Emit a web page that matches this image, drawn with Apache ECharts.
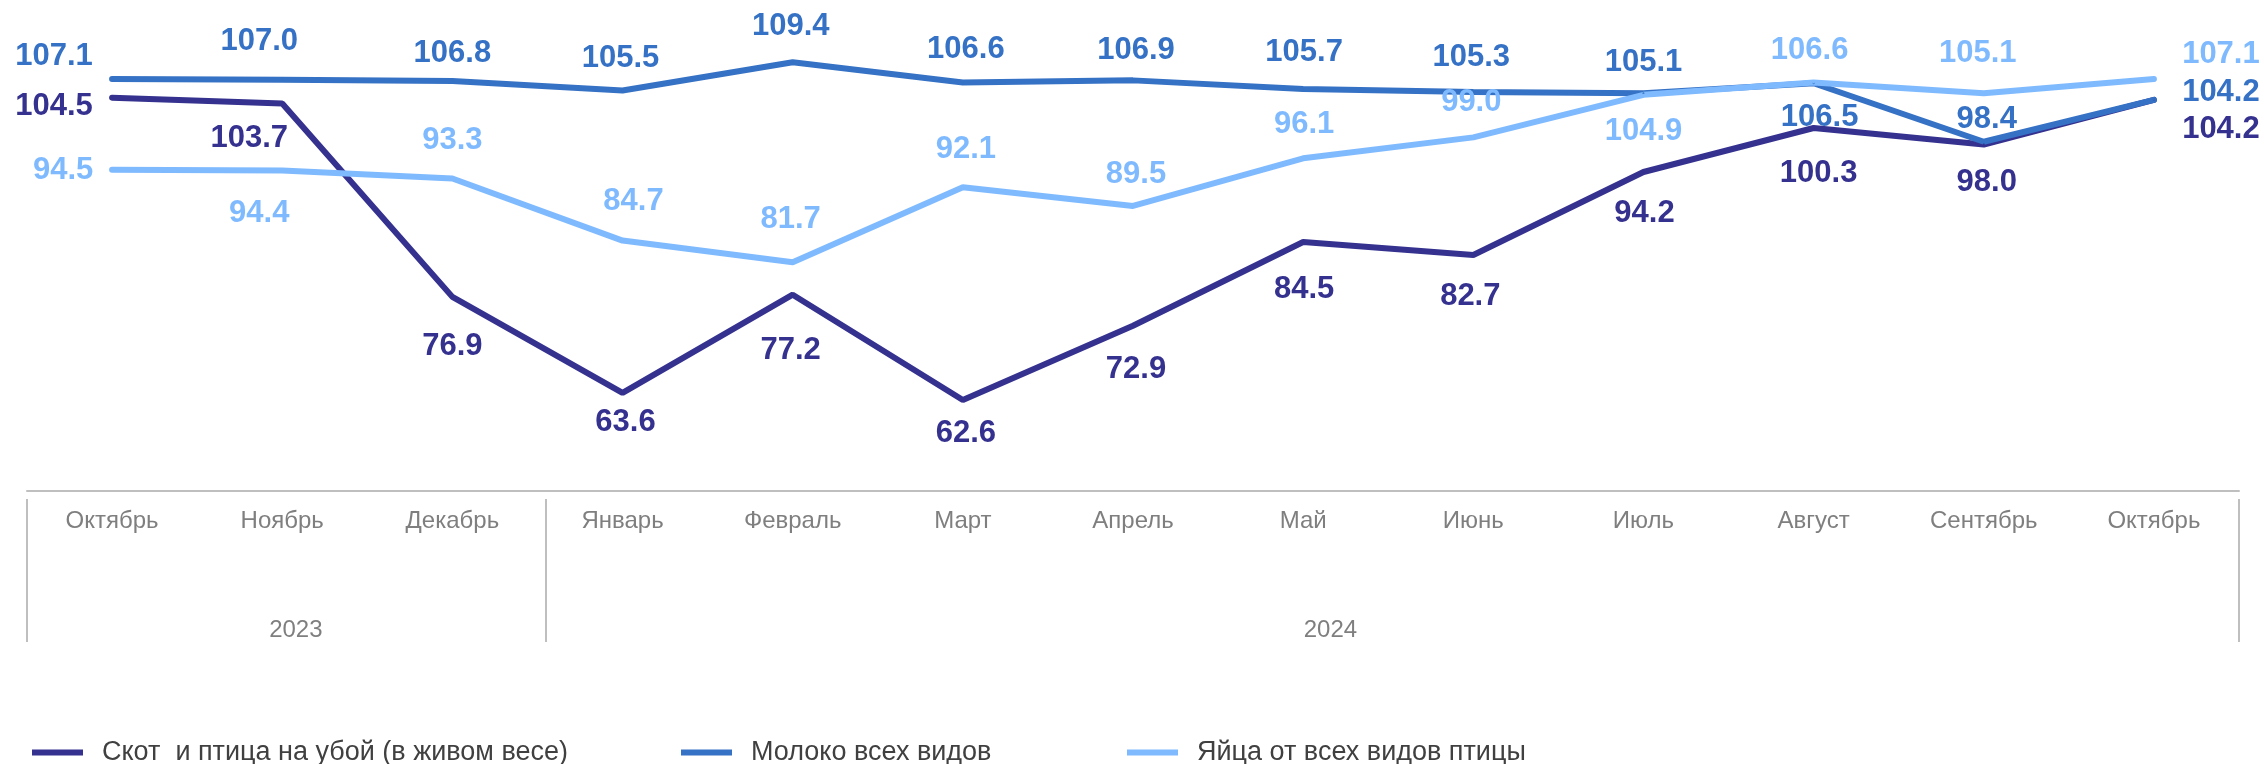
<!DOCTYPE html>
<html>
<head>
<meta charset="utf-8">
<script src="https://cdn.jsdelivr.net/npm/echarts@6/dist/echarts.min.js"></script>
<style>
  html, body { margin: 0; padding: 0; background: #fff; }
  #chart { width: 2264px; height: 764px; }
</style>
</head>
<body>
<div id="chart"></div>
<script>
// месяцы (окт 2023 - окт 2024)
var months = ["Октябрь", "Ноябрь", "Декабрь", "Январь", "Февраль", "Март", "Апрель",
    "Май", "Июнь", "Июль", "Август", "Сентябрь", "Октябрь"];
var years = ["2023", "2024"];

var seriesNames = ["Скот  и птица на убой (в живом весе)", "Молоко всех видов", "Яйца от всех видов птицы"];

var skot = [104.5, 103.7, 76.9, 63.6, 77.2, 62.6, 72.9, 84.5, 82.7, 94.2, 100.3, 98.0, 104.2];
var moloko = [107.1, 107.0, 106.8, 105.5, 109.4, 106.6, 106.9, 105.7, 105.3, 105.1, 106.5, 98.4, 104.2];
var yaica = [94.5, 94.4, 93.3, 84.7, 81.7, 92.1, 89.5, 96.1, 99.0, 104.9, 106.6, 105.1, 107.1];

// сдвиги подписей относительно точки (как в исходной диаграмме)
var skotOffsets = [[-58, 9], [-33, 35], [0, 50], [3, 30], [-2, 56], [3, 33], [3, 44],
    [1, 47], [-3, 41], [1, 41], [5, 45], [3, 38], [67, 30]];
var molokoOffsets = [[-58, -22], [-23, -38], [0, -28], [-2, -32], [-2, -36], [3, -33], [3, -30],
    [1, -37], [-2, -34], [0, -31], [6, 34], [3, -22], [67, -7]];
var yaicaOffsets = [[-49, 1], [-23, 43], [0, -38], [11, -39], [-2, -43], [3, -38], [3, -31],
    [1, -34], [-2, -35], [0, 37], [-4, -32], [-6, -40], [67, -24]];

// границы групп годов и положение подписей годов на шкале 0..13
var yearBounds = [0, 3.05, 13];
var yearLabelPos = [1.58, 7.66];

// левые края элементов легенды
var legendLeft = [27, 676, 1122];

var colors = ["#35318f", "#3571c4", "#7fbaff"];
var font = "'Liberation Sans', Arial, sans-serif";

var chart = echarts.init(document.getElementById("chart"));

function makeData(values, offsets) {
    return values.map(function (v, i) {
        return { value: v, label: { offset: offsets[i] } };
    });
}

function makeSeries(idx, values, offsets) {
    return {
        name: seriesNames[idx],
        type: "line",
        xAxisIndex: 0,
        data: makeData(values, offsets),
        symbol: "circle",
        symbolSize: 2,
        showSymbol: true,
        lineStyle: { width: 6, color: colors[idx], cap: "round" },
        itemStyle: { color: colors[idx] },
        label: {
            show: true,
            position: "inside",
            color: colors[idx],
            fontFamily: font,
            fontWeight: "bold",
            fontSize: 31,
            formatter: function (p) { return Number(p.value).toFixed(1); }
        },
        emphasis: { disabled: true }
    };
}

var legends = seriesNames.map(function (name, i) {
    return {
        left: legendLeft[i],
        top: 734,
        icon: "rect",
        itemWidth: 51,
        itemHeight: 6,
        textStyle: { fontFamily: font, fontSize: 27, color: "#404040", padding: [0, 0, 0, 14] },
        data: [name]
    };
});

var option = {
    animation: false,
    color: colors,
    grid: { left: 27, right: 25, top: 58, bottom: 273, containLabel: false },
    legend: legends,
    xAxis: [{
        type: "category",
        data: months,
        boundaryGap: true,
        axisLine: { lineStyle: { color: "#bfbfbf", width: 2 } },
        axisTick: { show: false },
        axisLabel: { margin: 18, color: "#7f7f7f", fontFamily: font, fontSize: 24, interval: 0 },
        splitLine: { show: false }
    }, {
        type: "value",
        position: "bottom",
        offset: 8,
        min: 0,
        max: 13,
        axisLine: { show: false },
        splitLine: { show: false },
        axisTick: {
            show: true,
            length: 143,
            customValues: yearBounds,
            lineStyle: { color: "#bfbfbf", width: 2 }
        },
        axisLabel: {
            customValues: yearLabelPos,
            margin: 119,
            color: "#7f7f7f",
            fontFamily: font,
            fontSize: 24,
            formatter: function (v) { return v < yearBounds[1] ? years[0] : years[1]; }
        }
    }],
    yAxis: {
        type: "value",
        min: 50,
        max: 110,
        show: false,
        splitLine: { show: false }
    },
    series: [
        makeSeries(0, skot, skotOffsets),
        makeSeries(1, moloko, molokoOffsets),
        makeSeries(2, yaica, yaicaOffsets)
    ]
};

chart.setOption(option);
</script>
</body>
</html>
